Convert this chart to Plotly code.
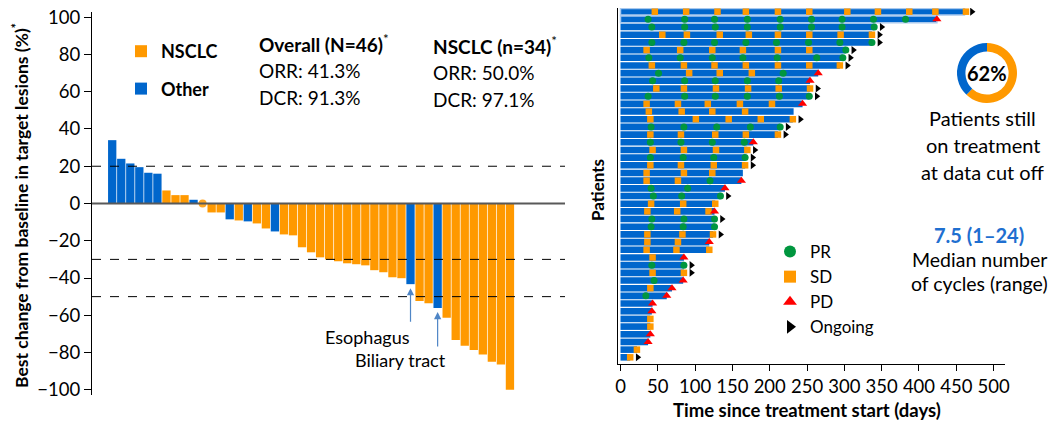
import plotly.graph_objects as go

W, H = 1053, 422
FONT = "Lato"
BLUE = "#0066cc"
ORANGE = "#ff9900"
GREEN = "#00963f"
RED = "#ff0000"

# ---------------- Waterfall data (best % change) ----------------
wf_change = [34, 24, 21.5, 19.5, 16.5, 16, 7, 4.5, 4.5, 2, 0, -4.8, -4.8, -8.5, -9.1,
             -9.6, -10.7, -13.4, -15, -16.6, -17.1, -23.5, -26.2, -28.9, -30, -31,
             -32.1, -32.6, -33.2, -35.8, -36.9, -39.6, -40.1, -43.3, -52.4, -53.5,
             -56.1, -61.3, -73.3, -76.3, -78.6, -81.1, -85, -86.4, -100]
wf_type = (["Other"] * 6 + ["NSCLC", "NSCLC", "NSCLC", "Other", "NSCLC", "NSCLC",
            "NSCLC", "Other", "NSCLC", "Other", "NSCLC", "NSCLC", "Other"]
           + ["NSCLC"] * 14 + ["Other", "NSCLC", "NSCLC", "Other"] + ["NSCLC"] * 8)
wf_ref_lines = [20, -30, -50]
wf_yticks = list(range(-100, 101, 20))
annot_esophagus = 33
annot_biliary = 36

# ---------------- Swimmer data (days) ----------------
sw_end = [461, 424, 340, 337, 337, 302, 298, 294, 265, 254, 254, 253, 244, 232, 231,
          214, 211, 178, 170, 167, 167, 164, 162, 140, 134, 127, 126, 126, 126, 124,
          119, 119, 85, 85, 85, 84, 69, 62, 43, 42, 40, 40, 40, 37, 22, 13]
sw_sd = [[46, 88, 130, 168, 211, 253, 304, 345, 387, 422, 463], [], [],
         [56, 89, 133, 172, 211, 253, 295, 337], [], [35, 80, 123, 164, 211, 253], [],
         [42, 85, 126, 168, 211, 253, 294], [92, 133, 176], [],
         [48, 85, 128, 171, 212, 254], [], [35, 77, 117, 160, 203], [38, 82, 123, 167],
         [40, 101, 145, 188, 231], [], [40, 81, 127, 168, 211], [], [43, 85, 128, 170],
         [], [40, 81, 125, 167], [35, 85, 123], [35, 77], [], [], [41, 84, 127],
         [36, 76, 118], [], [], [36, 83, 124], [36, 77], [35, 75, 119], [43], [],
         [43, 85], [], [40], [], [], [], [40], [40], [], [], [22], [13]]
sw_pr = [[], [37, 86, 126, 170, 214, 256, 297, 339, 382],
         [42, 86, 127, 170, 214, 256, 297, 340], [],
         [42, 85, 126, 168, 209, 252, 294, 337], [302],
         [38, 80, 123, 164, 210, 263, 298], [], [51, 218], [43, 86, 127, 170, 212], [],
         [37, 86, 127, 170, 213, 253], [], [], [], [41, 85, 129, 174, 214], [],
         [40, 81, 123, 166], [], [40, 84, 125, 167], [], [], [120], [41, 90],
         [44, 82, 134], [], [], [42, 85, 126], [41, 84, 126], [], [], [], [], [42, 85],
         [], [45], [], [34], [], [], [], [], [], [], [], []]
sw_status = ["ON", "PD", "ON", "ON", "ON", "ON", "ON", "ON", "PD", "PD", "ON", "ON", "PD",
             "", "ON", "ON", "ON", "PD", "ON", "ON", "ON", "", "PD", "PD", "ON", "", "PD",
             "ON", "", "ON", "PD", "", "PD", "ON", "ON", "PD", "PD", "PD", "PD", "PD", "",
             "", "PD", "PD", "", "ON"]
sw_highlight = [0, 1]
sw_xticks = list(range(0, 501, 50))

donut_values = [62, 38]
donut_labels = ["Still on treatment", "Off treatment"]


def px(x):
    return x / W


def py(y):
    return 1 - y / H


fig = go.Figure()

# ---- waterfall bars
for grp, col in [("NSCLC", ORANGE), ("Other", BLUE)]:
    xs = [i for i, t in enumerate(wf_type) if t == grp]
    ys = [wf_change[i] for i in xs]
    fig.add_trace(go.Bar(x=xs, y=ys, name=grp, marker_color=col, width=0.92,
                         marker_line_width=0, xaxis="x", yaxis="y",
                         legend="legend", legendgroup=grp, hoverinfo="skip"))
zx = [i for i, v in enumerate(wf_change) if v == 0]
fig.add_trace(go.Scatter(x=zx, y=[wf_change[i] for i in zx], mode="markers",
                         marker=dict(color=ORANGE, size=8, opacity=0.85),
                         showlegend=False, xaxis="x", yaxis="y", hoverinfo="skip"))

# ---- swimmer bars
rows = list(range(len(sw_end)))
line_w = [1.5 if r in sw_highlight else 0 for r in rows]
fig.add_trace(go.Bar(x=sw_end, y=rows, orientation="h", base=0, width=0.86,
                     marker=dict(color=BLUE, line=dict(color="#a9c9ee", width=line_w)),
                     showlegend=False, xaxis="x2", yaxis="y2", hoverinfo="skip"))

sd_x, sd_y, pr_x, pr_y = [], [], [], []
for r in rows:
    for d in sw_sd[r]:
        sd_x.append(d); sd_y.append(r)
    for d in sw_pr[r]:
        pr_x.append(d); pr_y.append(r)
pd_x = [sw_end[r] for r in rows if sw_status[r] == "PD"]
pd_y = [r for r in rows if sw_status[r] == "PD"]
on_x = [sw_end[r] + 10 for r in rows if sw_status[r] == "ON"]
on_y = [r for r in rows if sw_status[r] == "ON"]

marker_specs = [
    ("PR", pr_x, pr_y, dict(symbol="circle", color=GREEN, size=7)),
    ("SD", sd_x, sd_y, dict(symbol="square", color=ORANGE, size=6.5)),
    ("PD", pd_x, pd_y, dict(symbol="triangle-up", color=RED, size=8)),
    ("Ongoing", on_x, on_y, dict(symbol="triangle-right", color="black", size=7)),
]
for name, xs, ys, mk in marker_specs:
    fig.add_trace(go.Scatter(x=xs, y=ys, mode="markers", marker=mk, showlegend=False,
                             xaxis="x2", yaxis="y2", hoverinfo="skip"))
# legend entries (larger symbols)
for name, xs, ys, mk in marker_specs:
    big = dict(mk)
    big["size"] = 12
    fig.add_trace(go.Scatter(x=[None], y=[None], mode="markers", marker=big, name=name,
                             legend="legend2", xaxis="x2", yaxis="y2", hoverinfo="skip"))

# ---- donut
fig.add_trace(go.Pie(values=donut_values, labels=donut_labels,
                     marker=dict(colors=[ORANGE, BLUE]), hole=0.72, sort=False,
                     direction="clockwise", textinfo="none", showlegend=False,
                     hoverinfo="skip",
                     domain=dict(x=[px(957), px(1017)], y=[py(103), py(43)])))

shapes = [dict(type="line", xref="x domain", yref="y", x0=0, x1=1, y0=v, y1=v,
               line=dict(color="black", width=1, dash="dash"), layer="above")
          for v in wf_ref_lines]
shapes.append(dict(type="line", xref="x domain", yref="y", x0=0, x1=1, y0=0, y1=0,
                   line=dict(color="#595959", width=2), layer="above"))


def txt(text, x, y, size=19, color="black", xanchor="left", angle=0):
    return dict(text=text, x=px(x), y=py(y), xref="paper", yref="paper",
                xanchor=xanchor, yanchor="middle", showarrow=False, textangle=angle,
                font=dict(family=FONT, size=size, color=color))


annotations = [
    txt("<b>Overall (N=46)</b><sup>*</sup>", 257, 43),
    txt("ORR: 41.3%", 257, 70),
    txt("DCR: 91.3%", 257, 97),
    txt("<b>NSCLC (n=34)</b><sup>*</sup>", 431, 45),
    txt("ORR: 50.0%", 431, 72),
    txt("DCR: 97.1%", 431, 99),
    txt("Esophagus", 367, 337, size=18, xanchor="center"),
    txt("Biliary tract", 400, 360, size=18, xanchor="center"),
    txt("<b>Best change from baseline in target lesions (%)</b><sup><b>*</b></sup>",
        20, 206, size=17.5, xanchor="center", angle=-90),
    txt("<b>Patients</b>", 597, 190, size=17, xanchor="center", angle=-90),
    txt("<b>Time since treatment start (days)</b>", 807, 410, size=18.5,
        xanchor="center"),
    txt("<b>62%</b>", 987, 73, size=20, xanchor="center"),
    txt("Patients still", 982, 118, size=20, xanchor="center"),
    txt("on treatment", 983, 145, size=20, xanchor="center"),
    txt("at data cut off", 982, 172, size=20, xanchor="center"),
    txt("<b>7.5 (1–24)</b>", 979, 235, size=20, color="#1f6fd0", xanchor="center"),
    txt("Median number", 979, 259, size=19.5, xanchor="center"),
    txt("of cycles (range)", 979, 283, size=19.5, xanchor="center"),
]
for idx, ay in [(annot_esophagus, 39), (annot_biliary, 40)]:
    annotations.append(dict(x=idx, y=wf_change[idx], xref="x", yref="y", text="",
                            showarrow=True, ax=0, ay=ay, arrowhead=2, arrowsize=1.2,
                            arrowwidth=1.2, arrowcolor="#4f86c6", standoff=4))

fig.update_layout(
    width=W, height=H, autosize=False,
    margin=dict(l=0, r=0, t=0, b=0),
    paper_bgcolor="white", plot_bgcolor="white",
    template="none",
    barmode="overlay",
    font=dict(family=FONT, size=18, color="black"),
    xaxis=dict(domain=[px(92), px(565)], range=[-2.235, 50.09], visible=False,
               anchor="y"),
    yaxis=dict(domain=[py(395), py(12)], range=[-102.8, 102.8], tickvals=wf_yticks,
               ticks="outside", ticklen=7, tickcolor="black", showline=True,
               linecolor="black", linewidth=1.3, showgrid=False, zeroline=False,
               anchor="x", tickfont=dict(size=18.5)),
    xaxis2=dict(domain=[px(618), px(1005)], range=[-3.35, 515.3], tickvals=sw_xticks,
                ticks="outside", ticklen=6, tickcolor="black", showline=True,
                linecolor="black", linewidth=1.3, showgrid=False, zeroline=False,
                anchor="y2", tickfont=dict(size=18.5)),
    yaxis2=dict(domain=[py(364), py(8)], range=[45.87, -0.48], showticklabels=False,
                ticks="", showline=True, linecolor="black", linewidth=1.3,
                showgrid=False, zeroline=False, anchor="x2"),
    legend=dict(x=px(121), y=py(33), xanchor="left", yanchor="top",
                font=dict(family=FONT, size=18, weight="bold"), bgcolor="rgba(0,0,0,0)",
                traceorder="grouped", tracegroupgap=11),
    legend2=dict(x=px(770), y=py(234), xanchor="left", yanchor="top",
                 font=dict(family=FONT, size=17), bgcolor="rgba(0,0,0,0)",
                 itemsizing="trace"),
    shapes=shapes,
    annotations=annotations,
    hovermode=False,
)

fig.write_html("out.html")
